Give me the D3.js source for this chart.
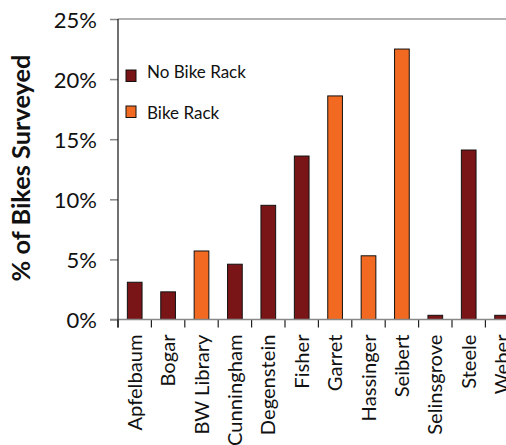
<!DOCTYPE html>
<html>
<head>
<meta charset="utf-8">
<script src="https://cdn.jsdelivr.net/npm/d3@7"></script>
<style>
  html, body { margin: 0; padding: 0; background: #fff; }
  svg { display: block; }
  text { font-family: Lato, "Open Sans", sans-serif; fill: #111; }
</style>
</head>
<body>
<svg id="chart" width="506" height="445"></svg>
<script>
const categories = ["Apfelbaum", "Bogar", "BW Library", "Cunningham", "Degenstein", "Fisher", "Garret", "Hassinger", "Seibert", "Selinsgrove", "Steele", "Weber"];
const values = [3.1, 2.3, 5.7, 4.6, 9.5, 13.6, 18.6, 5.3, 22.5, 0.35, 14.1, 0.35];
const rackType = ["No Bike Rack", "No Bike Rack", "Bike Rack", "No Bike Rack", "No Bike Rack", "No Bike Rack", "Bike Rack", "Bike Rack", "Bike Rack", "No Bike Rack", "No Bike Rack", "No Bike Rack"];
const seriesNames = ["No Bike Rack", "Bike Rack"];
const yTicks = [0, 5, 10, 15, 20, 25];
const yTitle = "% of Bikes Surveyed";

const FONT = "Lato, 'Open Sans', sans-serif";
const svg = d3.select("#chart");
const mLeft = 118, mTop = 19, mBottom = 319.5, step = 33.4;

const x = d3.scaleBand().domain(categories).range([mLeft, mLeft + step * categories.length]).padding(0);
const y = d3.scaleLinear().domain([0, 25]).range([mBottom, mTop]);
const color = d3.scaleOrdinal().domain(seriesNames).range(["#7a1517", "#f26a21"]);

// fit a text's font-size to a target length
function fitLen(sel, target) {
  const n = sel.node();
  const fs = parseFloat(sel.attr("font-size"));
  const len = n.getComputedTextLength();
  if (len > 0) sel.attr("font-size", fs * target / len);
}

// top gridline (25%)
svg.append("line")
  .attr("x1", mLeft).attr("x2", 506)
  .attr("y1", y(25)).attr("y2", y(25))
  .attr("stroke", "#999").attr("stroke-width", 1.5);

// bars
const barW = x.bandwidth() * 0.44;
svg.append("g").selectAll("rect").data(categories).join("rect")
  .attr("x", d => x(d) + (x.bandwidth() - barW) / 2)
  .attr("y", (d, i) => y(values[i]))
  .attr("width", barW)
  .attr("height", (d, i) => y(0) - y(values[i]))
  .attr("fill", (d, i) => color(rackType[i]))
  .attr("stroke", "#111").attr("stroke-width", 1);

// y axis
const yAxis = d3.axisLeft(y).tickValues(yTicks).tickSize(8).tickPadding(13).tickFormat(d => d + "%");
const gy = svg.append("g").attr("transform", `translate(${mLeft},0)`).call(yAxis);
gy.select(".domain").remove();
gy.selectAll(".tick line").attr("stroke", "#888").attr("stroke-width", 1.5);
gy.selectAll(".tick text").attr("font-size", 22).attr("font-family", FONT).attr("fill", "#111").attr("dy", "0.38em");

// x axis
const xAxis = d3.axisBottom(x).tickSize(0).tickPadding(0);
const gx = svg.append("g").attr("transform", `translate(0,${mBottom})`).call(xAxis);
gx.select(".domain").remove();
const xt = gx.selectAll(".tick text")
  .attr("font-size", 19.5).attr("font-family", FONT).attr("fill", "#111")
  .attr("text-anchor", "end")
  .attr("dy", 0).attr("y", 0).attr("x", 0);
const refLen = xt.filter(d => d === categories[0]).node().getComputedTextLength();
const kx = refLen > 0 ? 96 / refLen : 1;
xt.attr("transform", `translate(7,15) rotate(-90) scale(${kx},1)`);

// x axis tick marks at band boundaries
const bounds = categories.map(c => x(c));
svg.append("g").selectAll("line").data(bounds).join("line")
  .attr("x1", d => d).attr("x2", d => d)
  .attr("y1", mBottom).attr("y2", mBottom + 8)
  .attr("stroke", "#222").attr("stroke-width", 1.2);

// baseline
svg.append("line")
  .attr("x1", mLeft - 8).attr("x2", 506)
  .attr("y1", mBottom).attr("y2", mBottom)
  .attr("stroke", "#888").attr("stroke-width", 1.5);

// y axis line
svg.append("line")
  .attr("x1", mLeft).attr("x2", mLeft)
  .attr("y1", mTop).attr("y2", mBottom + 8)
  .attr("stroke", "#111").attr("stroke-width", 1.2);

// y title
const title = svg.append("text")
  .attr("transform", `translate(30,168) rotate(-90)`)
  .attr("text-anchor", "middle")
  .attr("font-family", FONT)
  .attr("font-size", 22).attr("font-weight", "bold")
  .text(yTitle);
fitLen(title, 227);

// legend
const legendY = [70, 106];
const legendBase = [77.5, 119];
const lg = svg.append("g");
seriesNames.forEach((s, i) => {
  lg.append("rect").attr("x", 126).attr("y", legendY[i]).attr("width", 10).attr("height", 11.5)
    .attr("fill", color(s)).attr("stroke", "#111").attr("stroke-width", 1);
  const t = lg.append("text").attr("x", 147).attr("y", legendBase[i]).attr("font-family", FONT).attr("font-size", 16.5).text(s);
  if (i === 0) fitLen(t, 99);
});
// keep legend labels same size
const lfs = lg.select("text").attr("font-size");
lg.selectAll("text").attr("font-size", lfs);
</script>
</body>
</html>
